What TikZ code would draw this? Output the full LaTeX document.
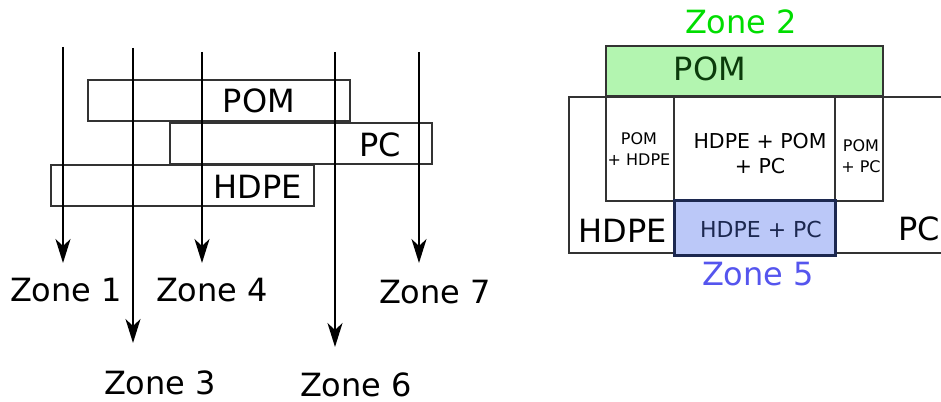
\documentclass[tikz,border=0pt]{standalone}
\usepackage{fontspec}
\setmainfont{DejaVu Sans}
\usetikzlibrary{arrows.meta}
\definecolor{boxgray}{HTML}{333333}
\definecolor{zonegreen}{HTML}{00DD00}
\definecolor{pomfill}{HTML}{B3F5B0}
\definecolor{pomtext}{HTML}{0B3B0B}
\definecolor{bluefill}{HTML}{BBC8F8}
\definecolor{bluestroke}{HTML}{1C2850}
\definecolor{zoneblue}{HTML}{5555EE}
\tikzset{
  big/.style={font=\fontsize{32}{36}\selectfont, inner sep=0pt},
  mid/.style={font=\fontsize{20.5}{25}\selectfont, inner sep=0pt, align=center},
  small/.style={font=\fontsize{16}{21}\selectfont, inner sep=0pt, align=center},
  bar/.style={draw=boxgray, line width=2.7pt},
  arr/.style={line width=1.8pt, -{Stealth[length=24pt,width=15pt,inset=7pt]}},
}
\begin{document}
\begin{tikzpicture}[x=1pt,y=-1pt]
\useasboundingbox (0,0) rectangle (941,401);
% ---------- left part ----------
\coordinate (a1s) at (63,47);  \coordinate (a1e) at (63,263);
\coordinate (a3s) at (133,48); \coordinate (a3e) at (133,343);
\coordinate (a4s) at (202,52); \coordinate (a4e) at (202,263);
\coordinate (a6s) at (335,52); \coordinate (a6e) at (335,347);
\coordinate (a7s) at (419,52); \coordinate (a7e) at (419,263);
\node[bar, minimum width=262pt, minimum height=41pt] (pomL) at (219,100.5) {};
\node[bar, minimum width=262pt, minimum height=41pt] (pcL) at (301,143.5) {};
\node[bar, minimum width=263pt, minimum height=41pt] (hdpeL) at (182.5,185.5) {};
\draw[arr] (a1s) -- (a1e);
\draw[arr] (a3s) -- (a3e);
\draw[arr] (a4s) -- (a4e);
\draw[arr] (a6s) -- (a6e);
\draw[arr] (a7s) -- (a7e);
\node[big] (tpomL) at (259,101) {POM};
\node[big] (tpcL) at (380,145) {PC};
\node[big] (thdpeL) at (258,187) {HDPE};
\node[big] (z1) at (66,290) {Zone 1};
\node[big] (z4) at (212,290) {Zone 4};
\node[big] (z7) at (435,292) {Zone 7};
\node[big] (z3) at (160,383) {Zone 3};
\node[big] (z6) at (356,385) {Zone 6};
% ---------- right part ----------
\draw[boxgray, line width=2.7pt] (945,97) -- (569,97) -- (569,253) -- (945,253);
\node[draw=boxgray, line width=2.7pt, minimum width=277pt, minimum height=105pt] (pomlow) at (744.5,148.5) {};
\node[draw=boxgray, line width=2.7pt, minimum width=161pt, minimum height=104pt] (midbox) at (754.5,149) {};
\node[draw=boxgray, line width=2.7pt, fill=pomfill, minimum width=277pt, minimum height=50pt] (pomR) at (744.5,71) {};
\node[draw=bluestroke, line width=3pt, fill=bluefill, minimum width=161pt, minimum height=55pt] (blueR) at (754.5,227.5) {};
\node[big, text=zonegreen] (z2) at (741,22) {Zone 2};
\node[big, text=pomtext] (tpomR) at (710,69) {POM};
\node[small] (tpomhdpe) at (639,149) {POM\\+ HDPE};
\node[mid] (tall) at (760,154) {HDPE + POM\\+ PC};
\node[small] (tpompc) at (861,156) {POM\\+ PC};
\node[big] (thdpeR) at (623,231) {HDPE};
\node[big] (tpcR) at (919,229) {PC};
\node[font=\fontsize{22}{26}\selectfont, inner sep=0pt, text=bluestroke] (thp) at (761,229) {HDPE + PC};
\node[big, text=zoneblue] (z5) at (758,274) {Zone 5};
\end{tikzpicture}
\end{document}
